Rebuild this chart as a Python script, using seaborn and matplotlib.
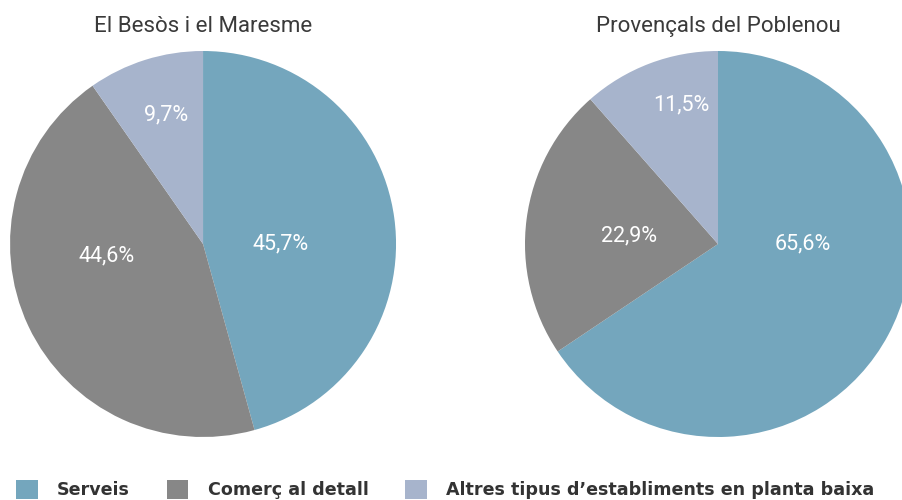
import numpy as np
import pandas as pd
import seaborn as sns
import matplotlib.pyplot as plt
from matplotlib.patches import Patch

sns.set_theme(style="white")
plt.rcParams["font.family"] = ["Roboto", "DejaVu Sans"]

# dades
categories = ["Serveis", "Comerç al detall", "Altres tipus d’establiments en planta baixa"]
besos = [45.7, 44.6, 9.7]
poblenou = [65.6, 22.9, 11.5]
titles = ["El Besòs i el Maresme", "Provençals del Poblenou"]
colors = ["#74a6bd", "#878787", "#a7b4cc"]

# posició de les etiquetes (en unitats de radi)
label_pos_besos = [(0.40, 0.0), (-0.50, -0.06), (-0.19, 0.67)]
label_pos_poblenou = [(0.44, 0.0), (-0.46, 0.04), (-0.19, 0.72)]

fig = plt.figure(figsize=(9.02, 5), dpi=100)
ax1 = fig.add_axes([0.0111, 0.126, 0.428, 0.772])
ax2 = fig.add_axes([0.582, 0.126, 0.428, 0.772])

def fmt(p):
    return f"{p:.1f}%".replace(".", ",")

for ax, vals, title, pos in zip([ax1, ax2], [besos, poblenou], titles,
                                [label_pos_besos, label_pos_poblenou]):
    wedges, texts, autotexts = ax.pie(vals, colors=colors, startangle=90, counterclock=False,
                                      autopct=fmt, pctdistance=0.5,
                                      wedgeprops=dict(linewidth=0),
                                      textprops=dict(color="white", fontsize=15.5))
    for t, p in zip(autotexts, pos):
        t.set_position(p)
    ax.set_aspect("equal")
    ax.set_xlim(-1, 1)
    ax.set_ylim(-1, 1)
    ax.text(0, 1.1, title, ha="center", va="baseline", fontsize=16, color="#3a3a3a")

handles = [Patch(facecolor=c, edgecolor="none") for c in colors]
leg = fig.legend(handles, categories, loc="lower left", bbox_to_anchor=(0.0, -0.03), ncol=3,
                 frameon=False, handlelength=1.25, handleheight=1.25, handletextpad=1.1,
                 columnspacing=2.1,
                 prop=dict(family=["Liberation Sans Narrow", "DejaVu Sans"], weight="bold", size=12.6))
for t in leg.get_texts():
    t.set_color("#333333")

fig.savefig("out.png", dpi=100)
